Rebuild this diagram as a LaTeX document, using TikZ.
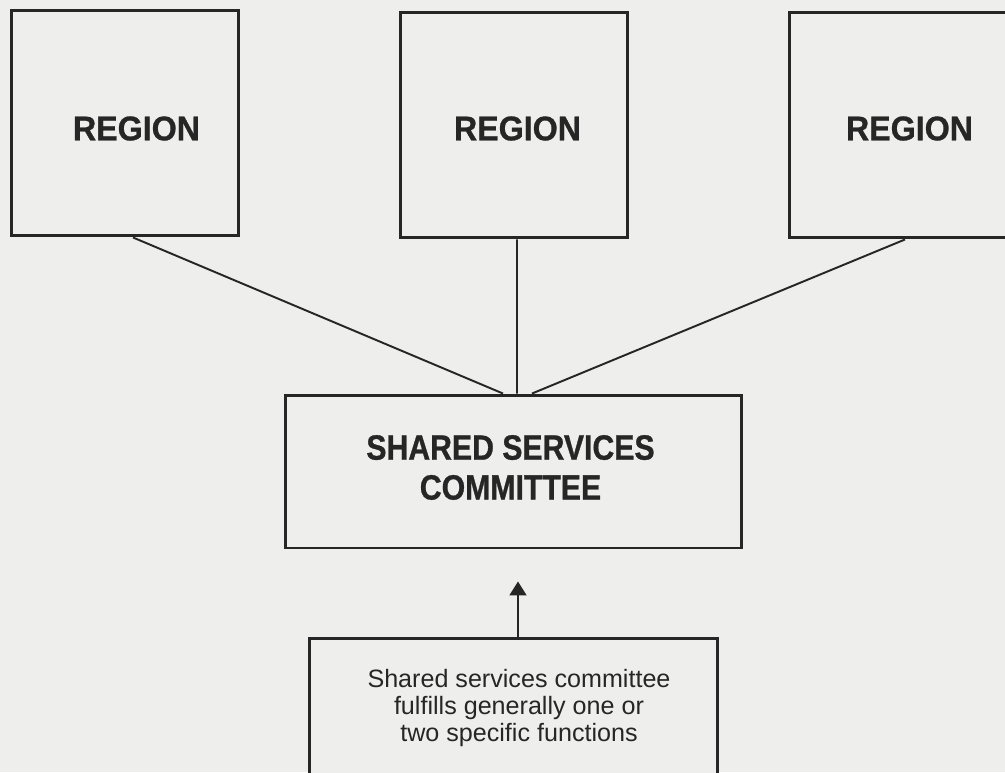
\documentclass[tikz,border=0pt]{standalone}
\usepackage{fontspec}
\setmainfont{Liberation Sans}
\newfontfamily\narrowfont{Liberation Sans}[FakeStretch=0.86, FakeBold=0.8]
\newfontfamily\regionfont{Liberation Sans}[FakeStretch=0.94, FakeBold=0.8]
\usepackage{tikz}
\usetikzlibrary{arrows.meta,positioning}
\definecolor{paper}{RGB}{238,238,236}
\definecolor{ink}{RGB}{38,38,38}

\begin{document}
\begin{tikzpicture}[x=0.02cm, y=-0.02cm,
    rbox/.style={draw=ink, line width=1.7pt, fill=paper, inner sep=0pt,
                 minimum width=4.56cm, minimum height=4.52cm},
    rtxt/.style={text=ink, inner sep=0pt, font=\regionfont\fontsize{19.5}{21}\selectfont\bfseries},
    link/.style={draw=ink, line width=1.1pt},
    arr/.style={-{Triangle[width=0.34cm,length=0.28cm]}, draw=ink, line width=1.1pt}]

    % paper
    \fill[paper] (0,0) rectangle (1005,772);
    \useasboundingbox (0,0) rectangle (1005,772);

    % === TOP: the three regions ===
    \node[rbox] (regL) at (125,123) {};
    \node[rbox] (regM) at (514,125) {};
    \node[rbox] (regR) at (903,125) {};
    \node[rtxt] (regLtxt) at (136.5,128.5) {REGION};
    \node[rtxt] (regMtxt) at (517.5,128.5) {REGION};
    \node[rtxt] (regRtxt) at (909.5,128.5) {REGION};

    % Central committee
    \node[draw=ink, line width=1.7pt, fill=paper, inner sep=0pt,
          minimum width=9.14cm, minimum height=3.06cm] (comm) at (513.5,471.5) {};
    \node[text=ink, inner sep=0pt, align=center,
          font=\narrowfont\fontsize{20}{22.7}\selectfont\bfseries] (commtxt) at (510.5,467.5)
      {SHARED SERVICES\\COMMITTEE};

    \draw[link] ([xshift=0.16cm]regL.south) -- ([xshift=-0.21cm]comm.north);
    \draw[link] ([xshift=0.06cm]regM.south) -- ([xshift=0.07cm]comm.north);
    \draw[link] ([xshift=0.04cm]regR.south) -- ([xshift=0.37cm]comm.north);

    % === BOTTOM: note on functions ===
    \node[draw=ink, line width=1.7pt, fill=paper, inner sep=0pt,
          minimum width=8.18cm, minimum height=3.3cm] (note) at (513.5,721) {};
    \node[text=ink, inner sep=0pt, align=center,
          font=\fontsize{14.3}{15.3}\selectfont] (notetxt) at (519,708)
      {Shared services committee\\fulfills generally one or\\two specific functions};

    \draw[arr, shorten >=0.64cm] ([xshift=0.09cm]note.north) -- ([xshift=0.09cm]comm.south);

\end{tikzpicture}
\end{document}
